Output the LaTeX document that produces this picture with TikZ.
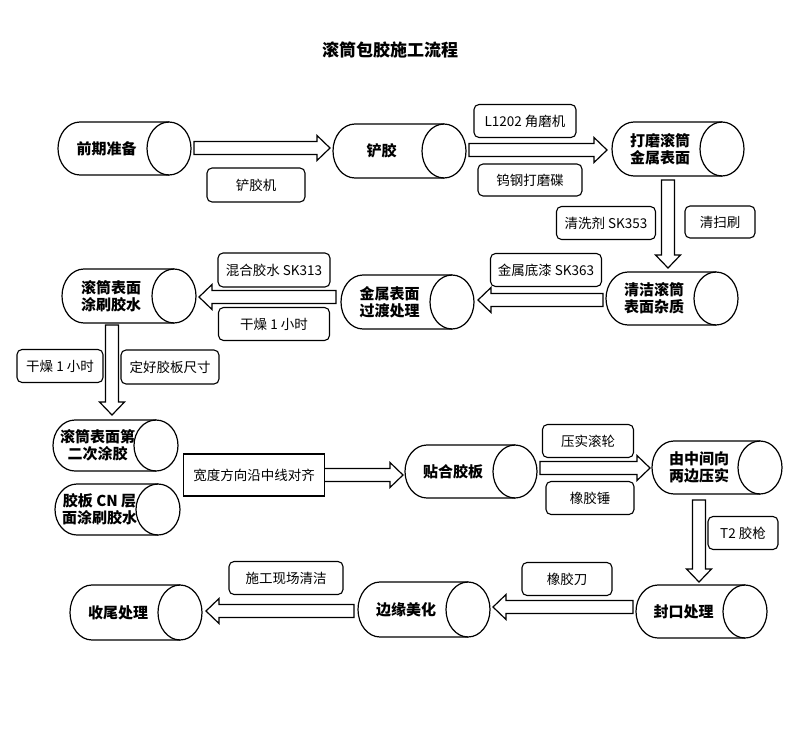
\documentclass[tikz,border=0pt]{standalone}
\usepackage{fontspec}
\setmainfont{Noto Sans CJK SC}
\usetikzlibrary{calc}
\newcommand\mycyl[6]{% name, L, R, T, B, text
  \pgfmathsetmacro\cM{(#4+#5)/2}\pgfmathsetmacro\cR{(#5-#4)/2}
  \pgfmathsetmacro\cE{#3-22}
  \draw[cylline] (#2+22,#4) -- (\cE,#4) (#2+22,#5) -- (\cE,#5)
    (#2+22,#4) arc (270:90:22 and \cR);
  \draw[cylline] (\cE,\cM) ellipse (22 and \cR);
  \node[cyltext] (#1) at ({(#2+\cE)/2-7},\cM) {#6};}
\newcommand\blkarr[2]{%
  \path let \p1=(#1), \p2=(#2), \n1={atan2(\y2-\y1,\x2-\x1)}, \n2={veclen(\x2-\x1,\y2-\y1)} in
   [draw, line width=1.2pt, fill=white, shift={(\p1)}, rotate=\n1]
   (0,-6.5) -- ({\n2-13},-6.5) -- ({\n2-13},-12.5) -- (\n2,0) -- ({\n2-13},12.5) -- ({\n2-13},6.5) -- (0,6.5) -- cycle;}
\begin{document}
\begin{tikzpicture}[x=1pt,y=-1pt,
  cylline/.style={line width=1.2pt},
  cyltext/.style={font=\fontsize{15}{17}\selectfont\bfseries, align=center, inner sep=0pt},
  lbl/.style={draw, line width=1.1pt, rounded corners=5pt, font=\fontsize{13.5}{15}\selectfont, inner sep=0pt}]
\useasboundingbox (0,0) rectangle (800,744);
\node[font=\fontsize{17}{19}\selectfont\bfseries] (title) at (390,50) {滚筒包胶施工流程};
% arrow endpoints
\coordinate (a1s) at (194,148); \coordinate (a1e) at (330,148);
\coordinate (a2s) at (469,150); \coordinate (a2e) at (607,150);
\coordinate (a3s) at (668,180); \coordinate (a3e) at (668,268);
\coordinate (a4s) at (603,300); \coordinate (a4e) at (478,300);
\coordinate (a5s) at (336,297); \coordinate (a5e) at (199,297);
\coordinate (a6s) at (112,325); \coordinate (a6e) at (112,415);
\coordinate (a7s) at (300,475); \coordinate (a7e) at (403,475);
\coordinate (a8s) at (540,468); \coordinate (a8e) at (650,468);
\coordinate (a9s) at (699,500); \coordinate (a9e) at (699,582);
\coordinate (a10s) at (633,607); \coordinate (a10e) at (493,607);
\coordinate (a11s) at (354,611); \coordinate (a11e) at (206,611);
\foreach \i in {1,...,11}{\blkarr{a\i s}{a\i e}}
% cylinders
\mycyl{c1}{58}{191}{122}{175}{前期准备}
\mycyl{c2}{333}{466}{124}{178}{铲胶}
\mycyl{c3}{612}{744}{122}{176}{打磨滚筒\\金属表面}
\mycyl{c4}{606}{738}{272}{325}{清洁滚筒\\表面杂质}
\mycyl{c5}{341}{474}{275}{329}{金属表面\\过渡处理}
\mycyl{c6}{62}{196}{269}{323}{滚筒表面\\涂刷胶水}
\mycyl{c7}{53}{178}{420}{471}{滚筒表面第\\二次涂胶}
\mycyl{c8}{55}{180}{484}{535}{胶板 CN 层\\面涂刷胶水}
\mycyl{c9}{405}{537}{445}{498}{贴合胶板}
\mycyl{c10}{652}{782}{441}{494}{由中间向\\两边压实}
\mycyl{c11}{636}{767}{585}{638}{封口处理}
\mycyl{c12}{358}{490}{582}{637}{边缘美化}
\mycyl{c13}{70}{202}{585}{640}{收尾处理}
% labels
\node[lbl, minimum width=98, minimum height=34] (l1) at (256,185) {铲胶机};
\node[lbl, minimum width=102, minimum height=33] (l2) at (525,121) {L1202 角磨机};
\node[lbl, minimum width=104, minimum height=32] (l3) at (530,180) {钨钢打磨碟};
\node[lbl, minimum width=99, minimum height=33] (l4) at (606,223) {清洗剂 SK353};
\node[lbl, minimum width=70, minimum height=32] (l5) at (720,222) {清扫刷};
\node[lbl, minimum width=111, minimum height=33] (l6) at (546,270) {金属底漆 SK363};
\node[lbl, minimum width=112, minimum height=34] (l7) at (274,270) {混合胶水 SK313};
\node[lbl, minimum width=111, minimum height=33] (l8) at (274,324) {干燥 1 小时};
\node[lbl, minimum width=86, minimum height=33] (l9) at (60,366) {干燥 1 小时};
\node[lbl, minimum width=98, minimum height=34] (l10) at (170,367) {定好胶板尺寸};
\node[draw, line width=1.1pt, fill=white, minimum width=141, minimum height=42, inner sep=0pt, font=\fontsize{13.5}{15}\selectfont] (l11) at (254,475) {宽度方向沿中线对齐};
\node[lbl, minimum width=91, minimum height=33] (l12) at (588,441) {压实滚轮};
\node[lbl, minimum width=88, minimum height=33] (l13) at (590,498) {橡胶锤};
\node[lbl, minimum width=70, minimum height=33] (l14) at (743,533) {T2 胶枪};
\node[lbl, minimum width=90, minimum height=33] (l15) at (567,579) {橡胶刀};
\node[lbl, minimum width=114, minimum height=33] (l16) at (286,578) {施工现场清洁};
\end{tikzpicture}
\end{document}
